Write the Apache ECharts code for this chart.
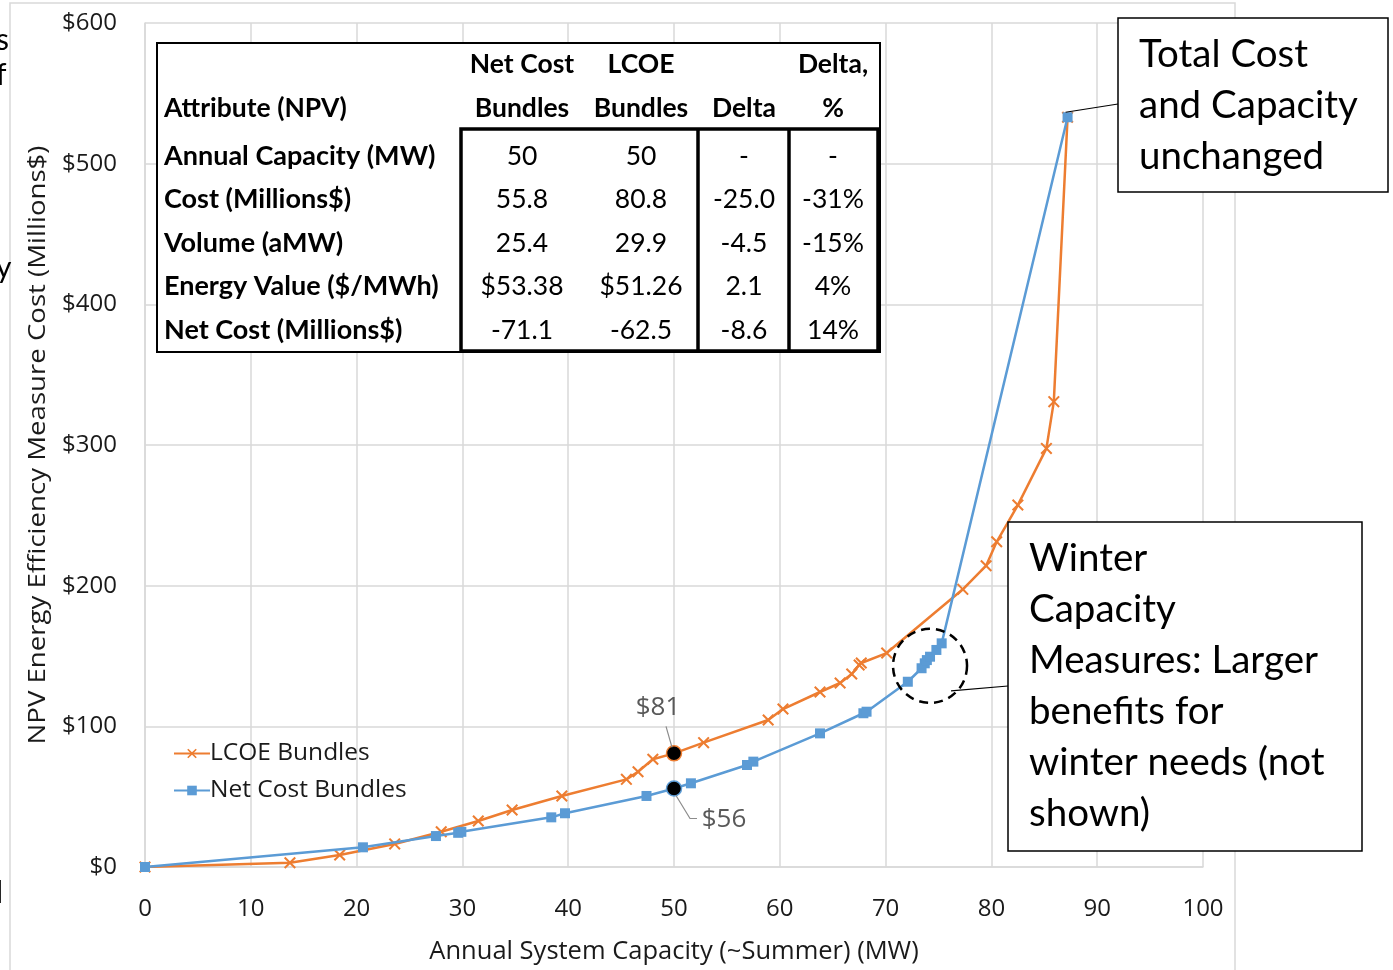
<!DOCTYPE html>
<html>
<head>
<meta charset="utf-8">
<script src="https://cdn.jsdelivr.net/npm/echarts@6/dist/echarts.min.js"></script>
<style>
html,body{margin:0;padding:0;background:#fff;}
#main{width:1393px;height:970px;}
</style>
</head>
<body>
<div id="main"></div>
<script>
// ---- Data ----
const lcoeX = [0, 13.7, 18.4, 23.6, 28.0, 31.5, 34.7, 39.4, 45.5, 46.6, 48.0, 50.0, 52.8, 58.9, 60.3, 63.8, 65.7, 66.8, 67.5, 67.7, 70.1, 77.3, 79.5, 80.5, 82.5, 85.2, 85.9, 87.2];
const lcoeY = [0, 3, 8.5, 16.4, 25.1, 32.7, 40.5, 50.5, 62.3, 67.7, 76.6, 80.8, 88.4, 104.5, 112.3, 124.4, 130.8, 137.2, 143.6, 145, 152.1, 197.4, 214.2, 231.2, 257.3, 297.6, 330.8, 533];
const netX = [0, 20.6, 27.5, 29.6, 29.9, 38.4, 39.7, 47.4, 50.0, 51.6, 56.9, 57.5, 63.8, 67.9, 68.2, 72.1, 73.4, 73.7, 73.9, 74.2, 74.8, 75.3, 87.2];
const netY = [0, 14, 22, 24.3, 25, 35.3, 38.2, 50.5, 55.8, 59.5, 72.5, 74.9, 95, 109.3, 110.4, 131.7, 141.3, 144.8, 147.1, 149.5, 154.3, 159, 533];
const highlightX = 50;
const lcoeLabel = '$81';
const netLabel = '$56';
const xTicks = [0, 10, 20, 30, 40, 50, 60, 70, 80, 90, 100];
const yTicks = [0, 100, 200, 300, 400, 500, 600];
const seriesNames = ['LCOE Bundles', 'Net Cost Bundles'];
const xTitle = 'Annual System Capacity (~Summer) (MW)';
const yTitle = 'NPV Energy Efficiency Measure Cost (Millions$)';
const tableHead1 = ['', 'Net Cost', 'LCOE', '', 'Delta,'];
const tableHead2 = ['Attribute (NPV)', 'Bundles', 'Bundles', 'Delta', '%'];
const tableRows = [
  ['Annual Capacity (MW)', '50', '50', '-', '-'],
  ['Cost (Millions$)', '55.8', '80.8', '-25.0', '-31%'],
  ['Volume (aMW)', '25.4', '29.9', '-4.5', '-15%'],
  ['Energy Value ($/MWh)', '$53.38', '$51.26', '2.1', '4%'],
  ['Net Cost (Millions$)', '-71.1', '-62.5', '-8.6', '14%']
];
const box1Lines = ['Total Cost', 'and Capacity', 'unchanged'];
const box2Lines = ['Winter', 'Capacity', 'Measures: Larger', 'benefits for', 'winter needs (not', 'shown)'];

// ---- Styles ----
const ORANGE = '#ED7D31';
const BLUE = '#5B9BD5';
const GRID = '#d9d9d9';
const TXT = '#1a1a1a';
const XPATH = 'path://M0,1.2 L1.2,0 L5,3.8 L8.8,0 L10,1.2 L6.2,5 L10,8.8 L8.8,10 L5,6.2 L1.2,10 L0,8.8 L3.8,5 Z';

function buildData(xs, ys, color) {
  return xs.map((x, i) => {
    if (x === highlightX) {
      return { value: [x, ys[i]], symbol: 'circle', symbolSize: 15,
        itemStyle: { color: '#000', borderColor: color, borderWidth: 1.5 } };
    }
    return [x, ys[i]];
  });
}

const chart = echarts.init(document.getElementById('main'), null, { renderer: 'canvas' });
const option = {
  animation: false,
  backgroundColor: '#fff',
  grid: { left: 145, right: 190, top: 23, bottom: 103, containLabel: false },
  xAxis: {
    type: 'value', min: xTicks[0], max: xTicks[xTicks.length - 1], interval: 10,
    axisLine: { show: true, lineStyle: { color: GRID, width: 1.5 } },
    axisTick: { show: false },
    splitLine: { show: true, lineStyle: { color: GRID, width: 1.5 } },
    axisLabel: { margin: 30, fontSize: 24, color: TXT, fontFamily: 'Open Sans' }
  },
  yAxis: {
    type: 'value', min: yTicks[0], max: yTicks[yTicks.length - 1], interval: 100,
    axisLine: { show: true, lineStyle: { color: GRID, width: 1.5 } },
    axisTick: { show: false },
    splitLine: { show: true, lineStyle: { color: GRID, width: 1.5 } },
    axisLabel: { margin: 28, fontSize: 24, color: TXT, fontFamily: 'Open Sans', formatter: v => '$' + v }
  },
  legend: {
    left: 168, top: 736, orient: 'vertical', itemGap: 12, itemWidth: 36, itemHeight: 12,
    textStyle: { fontSize: 24.5, color: TXT, fontFamily: 'Open Sans', padding: [0, 0, 0, -5] },
    data: seriesNames
  },
  series: [
    { name: seriesNames[0], type: 'line', data: buildData(lcoeX, lcoeY, ORANGE),
      symbol: XPATH, symbolSize: 12, showAllSymbol: true,
      lineStyle: { color: ORANGE, width: 2.5 }, itemStyle: { color: ORANGE }, z: 2 },
    { name: seriesNames[1], type: 'line', data: buildData(netX, netY, BLUE),
      symbol: 'rect', symbolSize: 10, showAllSymbol: true,
      lineStyle: { color: BLUE, width: 2.5 }, itemStyle: { color: BLUE }, z: 3 }
  ]
};
chart.setOption(option);

// ---- Annotations ----
const g = [];
// chart frame
g.push({ type: 'rect', shape: { x: 10, y: 3, width: 1225, height: 975 }, style: { fill: 'none', stroke: GRID, lineWidth: 1.5 }, z: 0, silent: true });
// stray cut-off slide text at left edge
[['s', 40], ['f', 75], ['y', 268], ['l', 893]].forEach(([t, y]) => {
  g.push({ type: 'text', x: -4, y: y, style: { text: t, fontSize: 30, fill: '#000', fontFamily: 'Lato', textVerticalAlign: 'middle' }, z: 50 });
});
// y title
g.push({ type: 'text', x: 38, y: 445, rotation: Math.PI / 2, scaleX: 1.2, style: { text: yTitle, fontSize: 23, fill: TXT, fontFamily: 'Open Sans', textAlign: 'center', textVerticalAlign: 'middle' }, z: 50 });
// x title
g.push({ type: 'text', x: 674, y: 952, style: { text: xTitle, fontSize: 25.5, fill: TXT, fontFamily: 'Open Sans', textAlign: 'center', textVerticalAlign: 'middle' }, z: 50 });

// highlighted point labels
const pL = chart.convertToPixel({ gridIndex: 0 }, [highlightX, lcoeY[lcoeX.indexOf(highlightX)]]);
const pN = chart.convertToPixel({ gridIndex: 0 }, [highlightX, netY[netX.indexOf(highlightX)]]);
g.push({ type: 'polyline', shape: { points: [[pL[0] - 8, pL[1] - 27], [pL[0] - 2, pL[1] - 6]] }, style: { stroke: '#8c8c8c', lineWidth: 1.2 }, z: 60 });
g.push({ type: 'text', x: pL[0] - 16, y: pL[1] - 46, style: { text: lcoeLabel, fontSize: 26, fill: '#595959', fontFamily: 'Open Sans', textAlign: 'center', textVerticalAlign: 'middle' }, z: 60 });
g.push({ type: 'polyline', shape: { points: [[pN[0] + 2, pN[1] + 7], [pN[0] + 16, pN[1] + 30], [pN[0] + 23, pN[1] + 30]] }, style: { stroke: '#8c8c8c', lineWidth: 1.2 }, z: 60 });
g.push({ type: 'text', x: pN[0] + 50, y: pN[1] + 31, style: { text: netLabel, fontSize: 26, fill: '#595959', fontFamily: 'Open Sans', textAlign: 'center', textVerticalAlign: 'middle' }, z: 60 });

// dashed circle around winter cluster
const pc = chart.convertToPixel({ gridIndex: 0 }, [74.2, 143]);
g.push({ type: 'circle', shape: { cx: pc[0], cy: pc[1], r: 37 }, style: { fill: 'none', stroke: '#000', lineWidth: 2.5, lineDash: [9, 6] }, z: 60 });
g.push({ type: 'line', shape: { x1: pc[0] + 21, y1: pc[1] + 25, x2: 1008, y2: 686 }, style: { stroke: '#000', lineWidth: 1.2 }, z: 60 });

// top-right callout
const pTop = chart.convertToPixel({ gridIndex: 0 }, [netX[netX.length - 1], netY[netY.length - 1]]);
g.push({ type: 'line', shape: { x1: pTop[0] - 2, y1: pTop[1] - 5, x2: 1118, y2: 104 }, style: { stroke: '#000', lineWidth: 1.2 }, z: 60 });
g.push({ type: 'rect', shape: { x: 1118, y: 18, width: 270, height: 174 }, style: { fill: '#fff', stroke: '#000', lineWidth: 1.5 }, z: 70 });
box1Lines.forEach((t, i) => {
  g.push({ type: 'text', x: 1139, y: 55 + i * 51, style: { text: t, fontSize: 38.5, fill: '#000', fontFamily: 'Lato', textVerticalAlign: 'middle' }, z: 71 });
});
g.push({ type: 'rect', shape: { x: 1008, y: 522, width: 354, height: 329 }, style: { fill: '#fff', stroke: '#000', lineWidth: 1.5 }, z: 70 });
box2Lines.forEach((t, i) => {
  g.push({ type: 'text', x: 1029, y: 559 + i * 51, style: { text: t, fontSize: 38.5, fill: '#000', fontFamily: 'Lato', textVerticalAlign: 'middle' }, z: 71 });
});

// table
g.push({ type: 'rect', shape: { x: 157, y: 43, width: 723, height: 309 }, style: { fill: '#fff', stroke: '#000', lineWidth: 2 }, z: 70 });
g.push({ type: 'rect', shape: { x: 461, y: 129, width: 417, height: 222 }, style: { fill: 'none', stroke: '#000', lineWidth: 3.5 }, z: 72 });
g.push({ type: 'line', shape: { x1: 698, y1: 129, x2: 698, y2: 351 }, style: { stroke: '#000', lineWidth: 3.5 }, z: 72 });
g.push({ type: 'line', shape: { x1: 789, y1: 129, x2: 789, y2: 351 }, style: { stroke: '#000', lineWidth: 3.5 }, z: 72 });
const colX = [164, 522, 641, 744, 833];
const headY = [64, 108];
[tableHead1, tableHead2].forEach((row, r) => {
  row.forEach((t, c) => {
    if (!t) return;
    g.push({ type: 'text', x: colX[c], y: headY[r], style: { text: t, fontSize: 26.5, fontWeight: 'bold', fill: '#000', fontFamily: 'Lato', textAlign: c === 0 ? 'left' : 'center', textVerticalAlign: 'middle' }, z: 73 });
  });
});
tableRows.forEach((row, r) => {
  row.forEach((t, c) => {
    g.push({ type: 'text', x: colX[c], y: 156 + r * 43.5, style: { text: t, fontSize: c === 0 ? 27 : 26.5, fontWeight: c === 0 ? 'bold' : 'normal', fill: '#000', fontFamily: 'Lato', textAlign: c === 0 ? 'left' : 'center', textVerticalAlign: 'middle' }, z: 73 });
  });
});

chart.setOption({ graphic: g });
</script>
</body>
</html>
